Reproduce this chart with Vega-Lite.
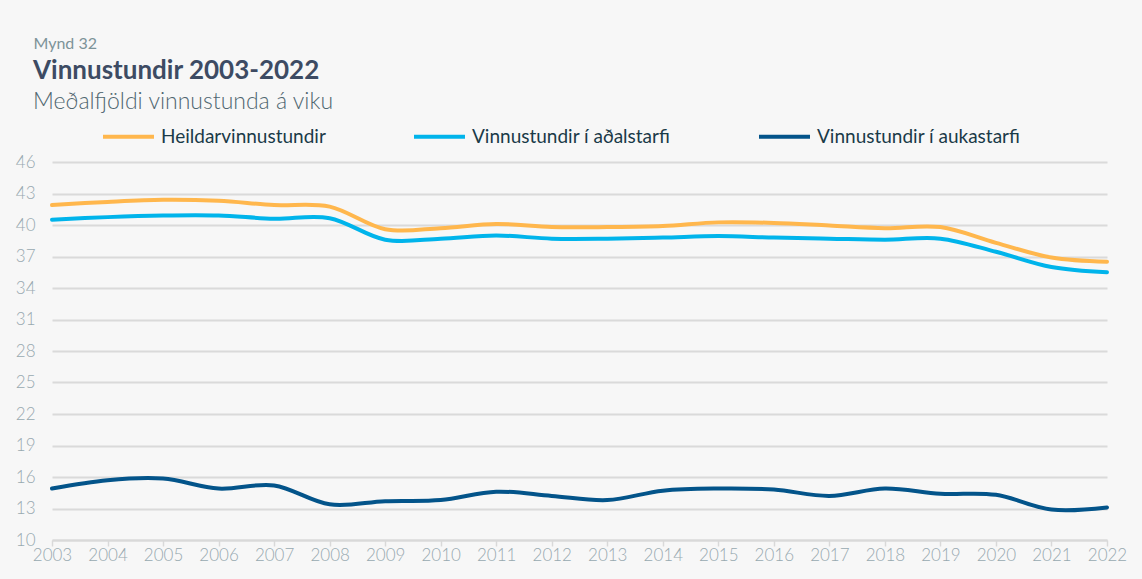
{
  "$schema": "https://vega.github.io/schema/vega-lite/v6.json",
  "autosize": "none",
  "width": 1055,
  "height": 378,
  "padding": {"left": 52, "top": 162, "right": 35, "bottom": 39},
  "background": "#f7f7f7",
  "title": {
    "text": "Vinnustundir 2003-2022",
    "subtitle": "Meðalfjöldi vinnustunda á viku",
    "anchor": "start",
    "frame": "group",
    "dx": -19,
    "offset": -79,
    "font": "Lato",
    "fontSize": 26,
    "fontWeight": "bold",
    "color": "#3d4b63",
    "subtitleFont": "Lato",
    "subtitleFontSize": 23,
    "subtitleFontWeight": 300,
    "subtitleColor": "#4f6670",
    "subtitlePadding": 7
  },
  "config": {
    "view": {"stroke": null},
    "font": "Lato"
  },
  "data": {
    "values": [
      {"year": 2003, "series": "Heildarvinnustundir", "value": 41.9},
      {"year": 2004, "series": "Heildarvinnustundir", "value": 42.2},
      {"year": 2005, "series": "Heildarvinnustundir", "value": 42.4},
      {"year": 2006, "series": "Heildarvinnustundir", "value": 42.3},
      {"year": 2007, "series": "Heildarvinnustundir", "value": 41.9},
      {"year": 2008, "series": "Heildarvinnustundir", "value": 41.75},
      {"year": 2009, "series": "Heildarvinnustundir", "value": 39.6},
      {"year": 2010, "series": "Heildarvinnustundir", "value": 39.7},
      {"year": 2011, "series": "Heildarvinnustundir", "value": 40.1},
      {"year": 2012, "series": "Heildarvinnustundir", "value": 39.8},
      {"year": 2013, "series": "Heildarvinnustundir", "value": 39.8},
      {"year": 2014, "series": "Heildarvinnustundir", "value": 39.9},
      {"year": 2015, "series": "Heildarvinnustundir", "value": 40.25},
      {"year": 2016, "series": "Heildarvinnustundir", "value": 40.2},
      {"year": 2017, "series": "Heildarvinnustundir", "value": 39.95},
      {"year": 2018, "series": "Heildarvinnustundir", "value": 39.7},
      {"year": 2019, "series": "Heildarvinnustundir", "value": 39.8},
      {"year": 2020, "series": "Heildarvinnustundir", "value": 38.3},
      {"year": 2021, "series": "Heildarvinnustundir", "value": 36.9},
      {"year": 2022, "series": "Heildarvinnustundir", "value": 36.5},
      {"year": 2003, "series": "Vinnustundir í aðalstarfi", "value": 40.5},
      {"year": 2004, "series": "Vinnustundir í aðalstarfi", "value": 40.75},
      {"year": 2005, "series": "Vinnustundir í aðalstarfi", "value": 40.9},
      {"year": 2006, "series": "Vinnustundir í aðalstarfi", "value": 40.9},
      {"year": 2007, "series": "Vinnustundir í aðalstarfi", "value": 40.6},
      {"year": 2008, "series": "Vinnustundir í aðalstarfi", "value": 40.65},
      {"year": 2009, "series": "Vinnustundir í aðalstarfi", "value": 38.6},
      {"year": 2010, "series": "Vinnustundir í aðalstarfi", "value": 38.7},
      {"year": 2011, "series": "Vinnustundir í aðalstarfi", "value": 39.0},
      {"year": 2012, "series": "Vinnustundir í aðalstarfi", "value": 38.7},
      {"year": 2013, "series": "Vinnustundir í aðalstarfi", "value": 38.7},
      {"year": 2014, "series": "Vinnustundir í aðalstarfi", "value": 38.8},
      {"year": 2015, "series": "Vinnustundir í aðalstarfi", "value": 38.95},
      {"year": 2016, "series": "Vinnustundir í aðalstarfi", "value": 38.8},
      {"year": 2017, "series": "Vinnustundir í aðalstarfi", "value": 38.7},
      {"year": 2018, "series": "Vinnustundir í aðalstarfi", "value": 38.6},
      {"year": 2019, "series": "Vinnustundir í aðalstarfi", "value": 38.7},
      {"year": 2020, "series": "Vinnustundir í aðalstarfi", "value": 37.45},
      {"year": 2021, "series": "Vinnustundir í aðalstarfi", "value": 36.0},
      {"year": 2022, "series": "Vinnustundir í aðalstarfi", "value": 35.5},
      {"year": 2003, "series": "Vinnustundir í aukastarfi", "value": 14.9},
      {"year": 2004, "series": "Vinnustundir í aukastarfi", "value": 15.7},
      {"year": 2005, "series": "Vinnustundir í aukastarfi", "value": 15.85},
      {"year": 2006, "series": "Vinnustundir í aukastarfi", "value": 14.9},
      {"year": 2007, "series": "Vinnustundir í aukastarfi", "value": 15.2},
      {"year": 2008, "series": "Vinnustundir í aukastarfi", "value": 13.4},
      {"year": 2009, "series": "Vinnustundir í aukastarfi", "value": 13.7},
      {"year": 2010, "series": "Vinnustundir í aukastarfi", "value": 13.8},
      {"year": 2011, "series": "Vinnustundir í aukastarfi", "value": 14.6},
      {"year": 2012, "series": "Vinnustundir í aukastarfi", "value": 14.2},
      {"year": 2013, "series": "Vinnustundir í aukastarfi", "value": 13.8},
      {"year": 2014, "series": "Vinnustundir í aukastarfi", "value": 14.7},
      {"year": 2015, "series": "Vinnustundir í aukastarfi", "value": 14.9},
      {"year": 2016, "series": "Vinnustundir í aukastarfi", "value": 14.8},
      {"year": 2017, "series": "Vinnustundir í aukastarfi", "value": 14.2},
      {"year": 2018, "series": "Vinnustundir í aukastarfi", "value": 14.9},
      {"year": 2019, "series": "Vinnustundir í aukastarfi", "value": 14.4},
      {"year": 2020, "series": "Vinnustundir í aukastarfi", "value": 14.3},
      {"year": 2021, "series": "Vinnustundir í aukastarfi", "value": 12.9},
      {"year": 2022, "series": "Vinnustundir í aukastarfi", "value": 13.1}
    ]
  },
  "mark": {"type": "line", "interpolate": "cardinal", "strokeWidth": 4, "strokeCap": "round", "strokeJoin": "round"},
  "encoding": {
    "x": {
      "field": "year",
      "type": "quantitative",
      "scale": {"domain": [2003, 2022], "nice": false, "zero": false},
      "axis": {
        "title": null,
        "values": [2003, 2004, 2005, 2006, 2007, 2008, 2009, 2010, 2011, 2012, 2013, 2014, 2015, 2016, 2017, 2018, 2019, 2020, 2021, 2022],
        "format": "d",
        "grid": false,
        "domainColor": "#d9d9d9",
        "domainWidth": 2,
        "tickColor": "#d9d9d9",
        "tickWidth": 1.5,
        "tickSize": 6,
        "labelFont": "Lato",
        "labelFontSize": 17,
        "labelFontWeight": 300,
        "labelColor": "#97a9b0",
        "labelPadding": 1,
        "labelFlush": false,
        "labelOverlap": false
      }
    },
    "y": {
      "field": "value",
      "type": "quantitative",
      "scale": {"domain": [10, 46], "nice": false, "zero": false},
      "axis": {
        "title": "Mynd 32",
        "titleAngle": 0,
        "titleAlign": "left",
        "titleBaseline": "alphabetic",
        "titleX": -19,
        "titleY": -114,
        "titleFont": "Lato",
        "titleFontSize": 16,
        "titleFontWeight": "normal",
        "titleColor": "#7d9399",
        "values": [10, 13, 16, 19, 22, 25, 28, 31, 34, 37, 40, 43, 46],
        "domain": false,
        "ticks": false,
        "gridColor": "#dadada",
        "gridWidth": 2,
        "labelFont": "Lato",
        "labelFontSize": 17,
        "labelFontWeight": 300,
        "labelColor": "#97a9b0",
        "labelPadding": 17
      }
    },
    "color": {
      "field": "series",
      "type": "nominal",
      "scale": {
        "domain": ["Heildarvinnustundir", "Vinnustundir í aðalstarfi", "Vinnustundir í aukastarfi"],
        "range": ["#ffb74d", "#00b4eb", "#03548a"]
      },
      "legend": {
        "title": null,
        "orient": "none",
        "direction": "horizontal",
        "legendX": 49,
        "legendY": -53,
        "symbolType": "stroke",
        "symbolSize": 2600,
        "symbolStrokeWidth": 4,
        "labelFont": "Lato",
        "labelFontSize": 19,
        "labelColor": "#1a3a48",
        "labelOffset": 5,
        "columnPadding": 80,
        "labelLimit": 400
      }
    }
  }
}
